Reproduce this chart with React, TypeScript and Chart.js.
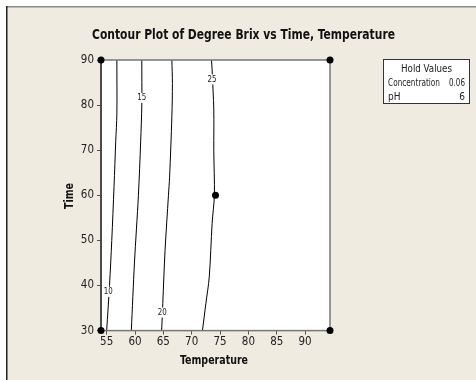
import React, { useEffect, useRef } from "react";
import { Chart, registerables } from "chart.js";

Chart.register(...registerables);

// ---- Data ----
const xTicks = [55, 60, 65, 70, 75, 80, 85, 90];
const yTicks = [30, 40, 50, 60, 70, 80, 90];
const xRange = [54, 94.4];
const yRange = [30, 90];

const contour10 = [
  { x: 55.0, y: 30 }, { x: 55.5, y: 40 }, { x: 55.9, y: 50 }, { x: 56.3, y: 62 },
  { x: 56.6, y: 72 }, { x: 56.8, y: 78 }, { x: 56.8, y: 90 },
];
const contour15 = [
  { x: 59.35, y: 30 }, { x: 59.9, y: 45 }, { x: 60.6, y: 60 }, { x: 61.0, y: 72 },
  { x: 61.2, y: 80 }, { x: 61.2, y: 90 },
];
const contour20 = [
  { x: 64.7, y: 30 }, { x: 64.9, y: 36 }, { x: 65.3, y: 47.8 }, { x: 65.9, y: 60 },
  { x: 66.1, y: 64 }, { x: 66.5, y: 77.4 }, { x: 66.6, y: 84.8 }, { x: 66.5, y: 90 },
];
const contour25 = [
  { x: 71.9, y: 30 }, { x: 72.5, y: 36 }, { x: 73.1, y: 41.9 }, { x: 73.6, y: 53.7 },
  { x: 74.0, y: 60 }, { x: 73.9, y: 70 }, { x: 73.9, y: 78.9 }, { x: 73.6, y: 87.8 },
  { x: 73.5, y: 90 },
];
const designPoints = [
  { x: 54, y: 30 }, { x: 54, y: 90 }, { x: 94.4, y: 30 }, { x: 94.4, y: 90 }, { x: 74.2, y: 60 },
];
const contourLabels = [
  { text: "10", x: 55.3, y: 38.6 },
  { text: "15", x: 61.2, y: 81.6 },
  { text: "20", x: 64.8, y: 34.0 },
  { text: "25", x: 73.6, y: 85.7 },
];
const titleText = "Contour Plot of Degree Brix vs Time, Temperature";
const xTitle = "Temperature";
const yTitle = "Time";
const holdTitle = "Hold Values";
const holdNames = ["Concentration", "pH"];
const holdValues = ["0.06", "6"];

const FONT = "'DejaVu Sans Condensed', 'Liberation Sans', sans-serif";

function fitText(ctx: any, text: string, x: number, y: number, maxW: number) {
  const w = ctx.measureText(text).width;
  if (w > maxW) ctx.fillText(text, x, y, maxW);
  else ctx.fillText(text, x, y);
}

const decorPlugin = {
  id: "decor",
  beforeDraw(chart: any) {
    const ctx = chart.ctx;
    const { width, height, chartArea: a } = chart;
    ctx.save();
    ctx.fillStyle = "#ffffff";
    ctx.fillRect(0, 0, width, height);
    ctx.fillStyle = "#efebe1";
    ctx.fillRect(7, 7, width - 7, height - 7);
    ctx.fillStyle = "#8a8a8a";
    ctx.fillRect(6, 6, width - 6, 1.5);
    ctx.fillStyle = "#222222";
    ctx.fillRect(6, 6, 1.5, height - 6);
    ctx.fillStyle = "#ffffff";
    ctx.fillRect(a.left, a.top, a.right - a.left, a.bottom - a.top);
    ctx.restore();
  },
  afterDatasetsDraw(chart: any) {
    const ctx = chart.ctx;
    const { chartArea: a } = chart;
    const xs = chart.scales.x;
    const ys = chart.scales.y;
    ctx.save();
    ctx.font = `9px ${FONT}`;
    ctx.textAlign = "center";
    ctx.textBaseline = "middle";
    for (const l of contourLabels) {
      const px = xs.getPixelForValue(l.x);
      const py = ys.getPixelForValue(l.y);
      const w = Math.min(ctx.measureText(l.text).width, 9);
      ctx.fillStyle = "#ffffff";
      ctx.fillRect(px - w / 2 - 1, py - 5, w + 2, 10);
      ctx.fillStyle = "#222222";
      fitText(ctx, l.text, px, py, 9);
    }
    ctx.strokeStyle = "#777777";
    ctx.lineWidth = 1.5;
    ctx.strokeRect(a.left, a.top, a.right - a.left, a.bottom - a.top);
    ctx.strokeStyle = "#333333";
    ctx.beginPath();
    ctx.moveTo(a.left, a.top);
    ctx.lineTo(a.left, a.bottom);
    ctx.stroke();
    ctx.restore();
  },
  afterDraw(chart: any) {
    const ctx = chart.ctx;
    const { chartArea: a } = chart;
    ctx.save();
    ctx.fillStyle = "#000000";
    for (const p of designPoints) {
      const px = chart.scales.x.getPixelForValue(p.x);
      const py = chart.scales.y.getPixelForValue(p.y);
      ctx.beginPath();
      ctx.arc(px, py, 3.5, 0, Math.PI * 2);
      ctx.fill();
    }
    ctx.fillStyle = "#111111";
    ctx.font = `bold 14px ${FONT}`;
    ctx.textAlign = "center";
    ctx.textBaseline = "middle";
    fitText(ctx, titleText, 243.5, 35, 303);
    ctx.font = `bold 12.5px ${FONT}`;
    fitText(ctx, xTitle, 214, 361, 68);
    ctx.save();
    ctx.translate(70, 196);
    ctx.rotate(-Math.PI / 2);
    fitText(ctx, yTitle, 0, 0, 26);
    ctx.restore();
    const bx = 383.5, by = 59.5, bw = 86, bh = 44;
    ctx.fillStyle = "#ffffff";
    ctx.fillRect(bx, by, bw, bh);
    ctx.strokeStyle = "#333333";
    ctx.lineWidth = 1;
    ctx.strokeRect(bx, by, bw, bh);
    ctx.fillStyle = "#222222";
    ctx.font = `10px ${FONT}`;
    ctx.textAlign = "center";
    fitText(ctx, holdTitle, bx + bw / 2, 69, 51);
    const rowsY = [83, 97.5];
    holdNames.forEach((n, i) => {
      ctx.textAlign = "left";
      fitText(ctx, n, 388, rowsY[i], 52);
      ctx.textAlign = "right";
      fitText(ctx, holdValues[i], 465, rowsY[i], 16);
    });
    ctx.restore();
  },
};

export default function App() {
  const ref = useRef<HTMLCanvasElement>(null);
  useEffect(() => {
    if (!ref.current) return;
    const lineDs = (data: any[]) => ({
      type: "line" as const,
      data,
      showLine: true,
      borderColor: "#000000",
      borderWidth: 1,
      pointRadius: 0,
      tension: 0.3,
      fill: false,
    });
    const chart = new Chart(ref.current, {
      type: "scatter",
      data: {
        datasets: [lineDs(contour10), lineDs(contour15), lineDs(contour20), lineDs(contour25)] as any,
      },
      options: {
        animation: false,
        responsive: false,
        events: [],
        layout: { padding: { left: 0, top: 60, right: 146, bottom: 0 } },
        plugins: { legend: { display: false }, tooltip: { enabled: false }, title: { display: false } },
        scales: {
          x: {
            type: "linear",
            min: xRange[0],
            max: xRange[1],
            afterBuildTicks: (s: any) => {
              s.ticks = xTicks.map((v) => ({ value: v }));
            },
            afterFit: (s: any) => {
              s.height = 49.4;
            },
            border: { display: false },
            grid: { drawOnChartArea: false, drawTicks: true, tickLength: 4, color: "#555555", lineWidth: 1 },
            ticks: { color: "#222222", font: { family: FONT, size: 11.5 }, padding: 1, autoSkip: false, maxRotation: 0 },
          },
          y: {
            type: "linear",
            min: yRange[0],
            max: yRange[1],
            afterBuildTicks: (s: any) => {
              s.ticks = yTicks.map((v) => ({ value: v }));
            },
            afterFit: (s: any) => {
              s.width = 101;
            },
            border: { display: false },
            grid: { drawOnChartArea: false, drawTicks: true, tickLength: 4, color: "#555555", lineWidth: 1 },
            ticks: { color: "#222222", font: { family: FONT, size: 11.5 }, padding: 3, autoSkip: false },
          },
        },
      },
      plugins: [decorPlugin],
    });
    return () => chart.destroy();
  }, []);
  return (
    <div style={{ position: "absolute", left: 0, top: 0, width: 476, height: 380 }}>
      <canvas ref={ref} width={476} height={380} style={{ width: 476, height: 380 }} />
    </div>
  );
}
